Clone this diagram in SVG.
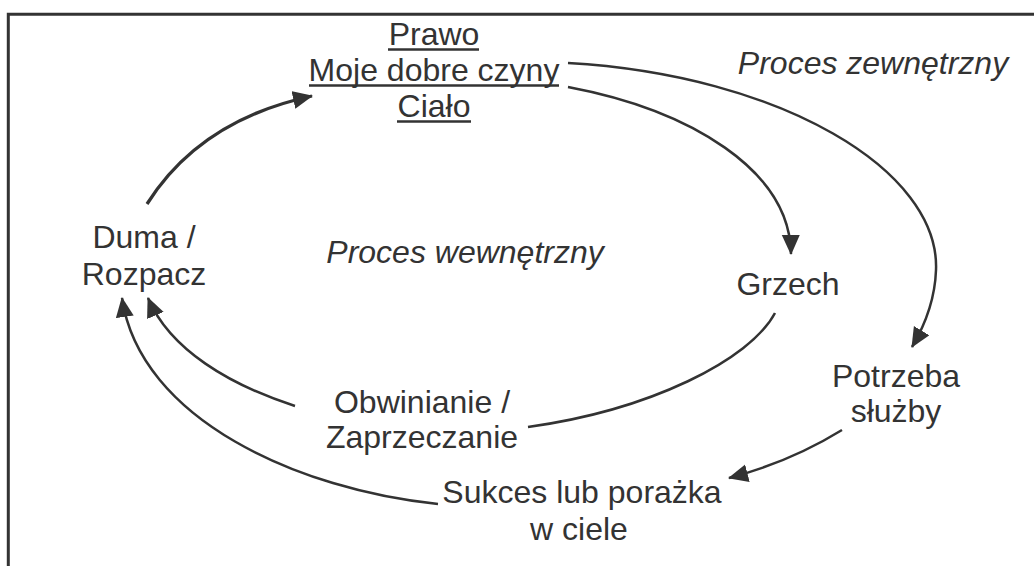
<svg xmlns="http://www.w3.org/2000/svg" width="1034" height="566" viewBox="0 0 1034 566">
<style>
text{font-family:"Liberation Sans",Arial,sans-serif;font-size:32px;fill:#333;text-anchor:middle}
.it{font-style:italic}
.c{fill:none;stroke:#333;stroke-width:2.5}
.ul{stroke:#333;stroke-width:2.5}
</style>
<defs>
<marker id="ah" markerUnits="userSpaceOnUse" markerWidth="22" markerHeight="20" refX="19" refY="9" orient="auto">
<path d="M0,0 L20,9 L0,18 Z" fill="#333"/>
</marker>
</defs>
<rect width="1034" height="566" fill="#fff"/>
<g id="frame">
<path d="M8.3,566 V14.3 H1034" fill="none" stroke="#333" stroke-width="3"/>
</g>
<g id="connectors">
<path class="c" d="M147,204 Q200,120 312,96" style="stroke-width:3.3" marker-end="url(#ah)"/>
<path class="c" d="M568,87 C690,110 790,170 791,254" marker-end="url(#ah)"/>
<path class="c" d="M568,63 C780,75 940,170 936,270 C935,300 925,325 912,347" marker-end="url(#ah)"/>
<path class="c" d="M775,313 C750,360 650,410 528,427"/>
<path class="c" d="M295,406 C230,385 170,350 148,298" marker-end="url(#ah)"/>
<path class="c" d="M438,504 C300,490 140,420 122,298" marker-end="url(#ah)"/>
<path class="c" d="M842,430 Q790,462 729,478" marker-end="url(#ah)"/>
</g>
<g id="prawo">
<text x="434" y="45">Prawo</text>
<text x="434" y="81">Moje dobre czyny</text>
<text x="434" y="117">Ciało</text>
<line class="ul" x1="388" y1="49.5" x2="479" y2="49.5"/>
<line class="ul" x1="309" y1="85.5" x2="559" y2="85.5"/>
<line class="ul" x1="397" y1="121.5" x2="471" y2="121.5"/>
</g>
<g id="zewn"><text class="it" x="873" y="74">Proces zewnętrzny</text></g>
<g id="wewn"><text class="it" x="465" y="263">Proces wewnętrzny</text></g>
<g id="duma">
<text x="144" y="248">Duma /</text>
<text x="144" y="285">Rozpacz</text>
</g>
<g id="grzech"><text x="788" y="295">Grzech</text></g>
<g id="obwinianie">
<text x="422" y="413">Obwinianie /</text>
<text x="422" y="448">Zaprzeczanie</text>
</g>
<g id="potrzeba">
<text x="896" y="387">Potrzeba</text>
<text x="896" y="422">służby</text>
</g>
<g id="sukces">
<text x="582" y="503">Sukces lub porażka</text>
<text x="579" y="540">w ciele</text>
</g>
</svg>
